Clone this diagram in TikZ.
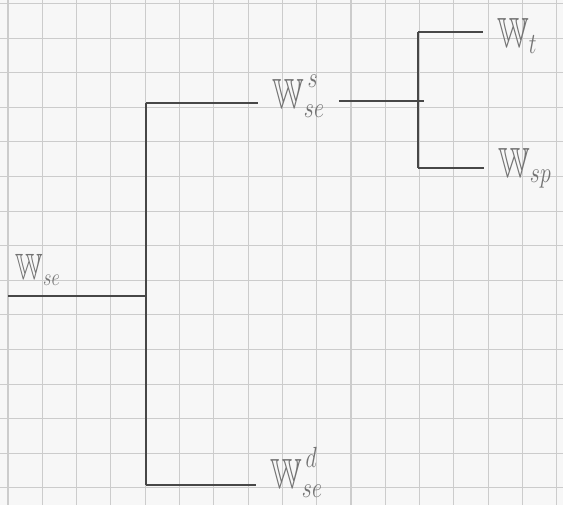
\documentclass[tikz,border=0pt]{standalone}
\usepackage{amssymb}
\usetikzlibrary{positioning}

\newcommand{\handlabel}[1]{\scalebox{0.75}[1]{$#1$}}
\newcommand{\highsup}[1]{\raisebox{6pt}{$\scriptstyle #1$}}

\begin{document}
\begin{tikzpicture}[
    x=0.025cm, y=-0.025cm,
    every node/.style={text=black!55, font=\fontsize{30}{32}\selectfont, inner xsep=10pt, inner ysep=1pt},
    branch/.style={draw=black!72, line width=1.6pt},
    gridline/.style={draw=black!20, line width=0.8pt}
]

\fill[black!3] (0,0) rectangle (563,505);
\useasboundingbox (0,0) rectangle (563,505);

% squared paper
\foreach \gx in {0,...,16} {
    \draw[gridline] ({8+34.3*\gx},0) -- ({8+34.3*\gx},505);
}
\foreach \gy in {0,...,14} {
    \draw[gridline] (0,{3.5+34.6*\gy}) -- (563,{3.5+34.6*\gy});
}

\coordinate (root) at (8,296);
\coordinate (split) at (146,296);
\coordinate (top) at (146,103);
\coordinate (bottom) at (146,485);
\coordinate (fork) at (424,101);
\coordinate (forktop) at (418,32);
\coordinate (forkbot) at (418,168);

\node (wse) at (38,270) [font=\fontsize{26}{28}\selectfont] {\handlabel{\mathbb{W}_{se}}};
\node (wses) [anchor=west] at (258,96) {\handlabel{\mathbb{W}_{se}^{\,\highsup{s}}}};
\node (wsed) [anchor=west] at (256,472) {\handlabel{\mathbb{W}_{se}^{\,\highsup{d}}}};
\node (wt) [anchor=west] at (483,36) {\handlabel{\mathbb{W}_{t}}};
\node (wsp) [anchor=west] at (484,168) {\handlabel{\mathbb{W}_{sp}}};

\draw[branch] (root) -- (split);
\draw[branch] (top) -- (bottom);
\draw[branch] (top) -- (top -| wses.west);
\draw[branch] (bottom) -- (bottom -| wsed.west);
\draw[branch] (fork -| wses.east) -- (fork);
\draw[branch] (forktop) -- (forkbot);
\draw[branch] (forktop) -- (forktop -| wt.west);
\draw[branch] (forkbot) -- (wsp);

\end{tikzpicture}
\end{document}
